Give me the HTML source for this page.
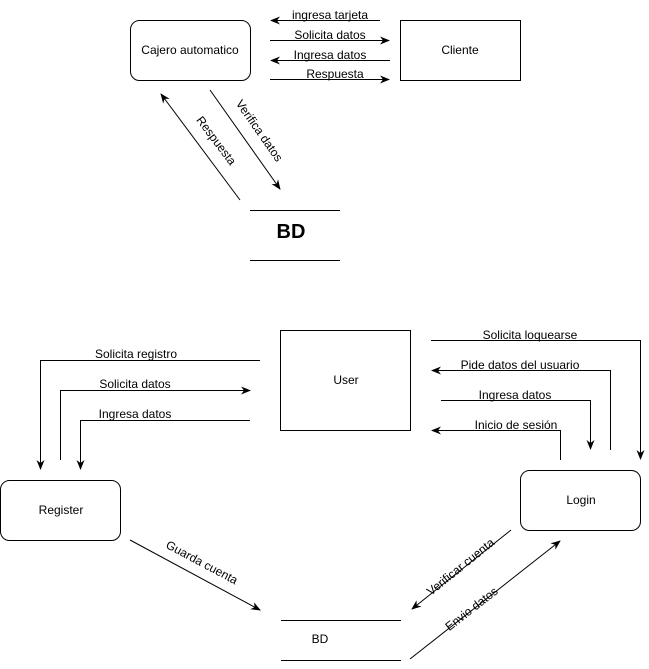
<!DOCTYPE html>
<html><head><meta charset="utf-8"><style>
html,body{margin:0;padding:0;background:#fff;}
svg{display:block;font-family:"Liberation Sans",sans-serif;font-size:12px;}
</style></head><body>
<svg width="649" height="669" viewBox="0 0 649 669" xmlns="http://www.w3.org/2000/svg">
<defs><marker id="a" markerWidth="10" markerHeight="8" refX="9" refY="4" orient="auto" markerUnits="userSpaceOnUse"><path d="M0,0 L10,4 L0,8 L3,4 z" fill="#000"/></marker></defs>
<g fill="none" stroke="#000" stroke-width="1">
<rect x="130.5" y="20.5" width="120" height="60" rx="9"/>
<rect x="400.5" y="20.5" width="120" height="60"/>
<line x1="380" y1="20.5" x2="271" y2="20.5" marker-end="url(#a)"/>
<line x1="270" y1="40.5" x2="389" y2="40.5" marker-end="url(#a)"/>
<line x1="390" y1="60.5" x2="271" y2="60.5" marker-end="url(#a)"/>
<line x1="270" y1="79.5" x2="389" y2="79.5" marker-end="url(#a)"/>
<line x1="240" y1="200" x2="161" y2="94" marker-end="url(#a)"/>
<line x1="210" y1="90" x2="280" y2="189" marker-end="url(#a)"/>
<line x1="250" y1="210.5" x2="340" y2="210.5"/>
<line x1="250" y1="260.5" x2="340" y2="260.5"/>
<rect x="280.5" y="330.5" width="130" height="100"/>
<rect x="0.5" y="480.5" width="120" height="60" rx="9"/>
<rect x="520.5" y="470.5" width="120" height="60" rx="9"/>
<line x1="281" y1="620.5" x2="401" y2="620.5"/>
<line x1="281" y1="660.5" x2="401" y2="660.5"/>
<polyline points="260,360.5 40.5,360.5 40.5,469" marker-end="url(#a)"/>
<polyline points="60.5,460 60.5,390.5 250,390.5" marker-end="url(#a)"/>
<polyline points="250,420.5 80.5,420.5 80.5,469" marker-end="url(#a)"/>
<polyline points="431,340.5 640.5,340.5 640.5,459" marker-end="url(#a)"/>
<polyline points="610.5,450 610.5,370.5 432,370.5" marker-end="url(#a)"/>
<polyline points="441,400.5 590.5,400.5 590.5,449" marker-end="url(#a)"/>
<polyline points="560.5,460 560.5,430.5 432,430.5" marker-end="url(#a)"/>
<line x1="130" y1="540" x2="260" y2="610" marker-end="url(#a)"/>
<line x1="511" y1="530" x2="412" y2="609" marker-end="url(#a)"/>
<line x1="410" y1="659" x2="560" y2="541" marker-end="url(#a)"/>
</g>
<g fill="#000" text-anchor="middle">
<text x="190" y="54">Cajero automatico</text>
<text x="460" y="54">Cliente</text>
<text x="330" y="19">ingresa tarjeta</text>
<text x="330" y="39">Solicita datos</text>
<text x="330" y="59">Ingresa datos</text>
<text x="335" y="78">Respuesta</text>
<text transform="translate(213,143) rotate(53)">Respuesta</text>
<text transform="translate(256,133) rotate(55)">Verifica datos</text>
<text x="291" y="238" font-size="20" font-weight="bold">BD</text>
<text x="346" y="384">User</text>
<text x="61" y="514">Register</text>
<text x="581" y="504">Login</text>
<text x="320" y="643">BD</text>
<text x="136" y="358">Solicita registro</text>
<text x="135" y="388">Solicita datos</text>
<text x="135" y="418">Ingresa datos</text>
<text x="530" y="339">Solicita loquearse</text>
<text x="520" y="369">Pide datos del usuario</text>
<text x="515" y="399">Ingresa datos</text>
<text x="516" y="429">Inicio de sesión</text>
<text transform="translate(200,566) rotate(28)">Guarda cuenta</text>
<text transform="translate(463,570) rotate(-39)">Verificar cuenta</text>
<text transform="translate(474,612) rotate(-38)">Envio datos</text>
</g>
</svg>
</body></html>
